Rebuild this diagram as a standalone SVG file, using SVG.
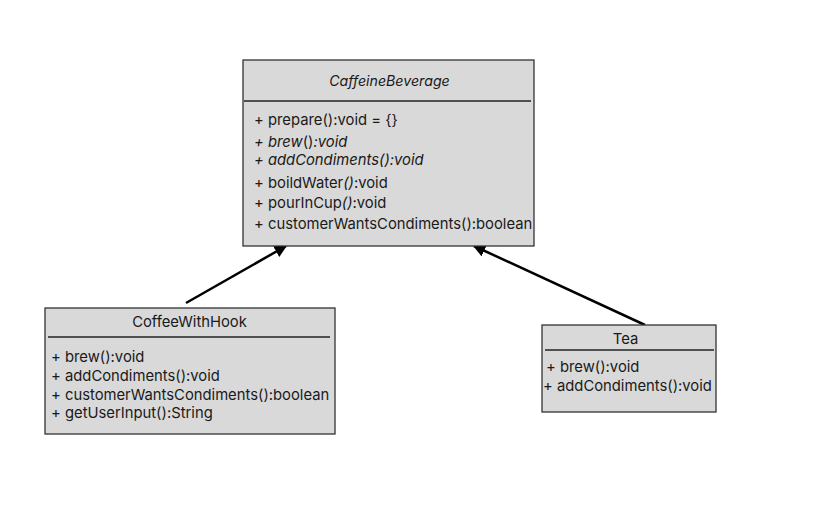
<svg xmlns="http://www.w3.org/2000/svg" width="833" height="520" viewBox="0 0 833 520">
<defs>
<marker id="arr" viewBox="0 0 10 10" refX="9" refY="5" markerWidth="5" markerHeight="5" orient="auto" markerUnits="strokeWidth">
<path d="M0,0 L10,5 L0,10 z" fill="#000"/>
</marker>
<style>
.box{fill:#d9d9d9;stroke:#333;stroke-width:1.3}
.sep{stroke:#222;stroke-width:1.3}
text{font-family:Inter,"Liberation Sans",sans-serif;font-size:14.8px;fill:#1a1a1a}
.c{text-anchor:middle}
.i{font-style:italic}
.t{font-size:14.2px}
.conn{stroke:#000;stroke-width:2.5;fill:none}
</style>
</defs>
<rect width="833" height="520" fill="#fff"/>
<g id="connectors">
<line class="conn" x1="186" y1="303" x2="286" y2="246" marker-end="url(#arr)"/>
<line class="conn" x1="645" y1="325" x2="474" y2="246" marker-end="url(#arr)"/>
</g>
<g id="CaffeineBeverage">
<rect class="box" x="243" y="60" width="291" height="186"/>
<line class="sep" x1="244" y1="101" x2="531" y2="101"/>
<text class="c i t" x="389.5" y="86">CaffeineBeverage</text>
<text x="254" y="125">+ prepare():void = {}</text>
<text x="254" y="147"><tspan class="i">+ brew</tspan>()<tspan class="i">:void</tspan></text>
<text class="i" x="254" y="165">+ addCondiments():void</text>
<text x="254" y="188">+ boildWater<tspan class="i">()</tspan>:void</text>
<text x="254" y="208">+ pourInCup<tspan class="i">()</tspan>:void</text>
<text x="254" y="229">+ customerWantsCondiments():boolean</text>
</g>
<g id="CoffeeWithHook">
<rect class="box" x="45" y="308" width="290" height="126"/>
<line class="sep" x1="48" y1="337" x2="330" y2="337"/>
<text class="c" x="189.5" y="327">CoffeeWithHook</text>
<text x="51" y="362">+ brew():void</text>
<text x="51" y="381">+ addCondiments():void</text>
<text x="51" y="400">+ customerWantsCondiments():boolean</text>
<text x="51" y="418">+ getUserInput():String</text>
</g>
<g id="Tea">
<rect class="box" x="542" y="325" width="174" height="87"/>
<line class="sep" x1="545" y1="350" x2="714" y2="350"/>
<text class="c" x="625.5" y="344">Tea</text>
<text x="546" y="372">+ brew():void</text>
<text x="543" y="391">+ addCondiments():void</text>
</g>
</svg>
